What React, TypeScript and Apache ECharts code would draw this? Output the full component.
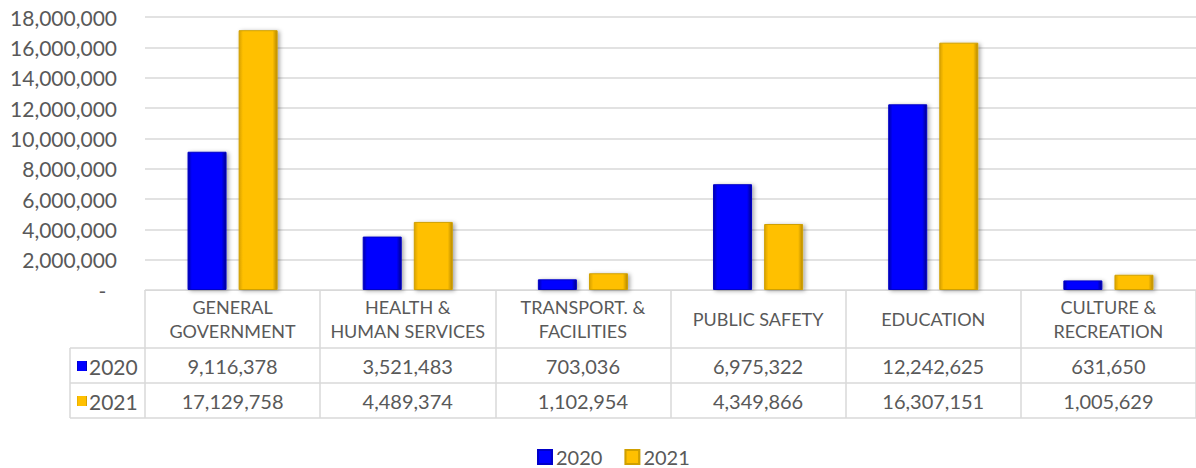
import React, { useEffect, useRef } from "react";
import * as echarts from "echarts";

const categories = [
  "GENERAL\nGOVERNMENT",
  "HEALTH &\nHUMAN SERVICES",
  "TRANSPORT. &\nFACILITIES",
  "PUBLIC SAFETY",
  "EDUCATION",
  "CULTURE &\nRECREATION",
];
const seriesNames = ["2020", "2021"];
const values2020 = [9116378, 3521483, 703036, 6975322, 12242625, 631650];
const values2021 = [17129758, 4489374, 1102954, 4349866, 16307151, 1005629];
const yMin = 0;
const yMax = 18000000;
const yInterval = 2000000;

const fmt = (n: number) => n.toLocaleString("en-US");
const FONT = "Lato";
const TXT = "#595959";
const LINE = "#d9d9d9";

const blueGrad = new echarts.graphic.LinearGradient(0, 0, 1, 0, [
  { offset: 0, color: "#0000a8" },
  { offset: 0.1, color: "#0000ff" },
  { offset: 0.88, color: "#0000ff" },
  { offset: 1, color: "#00008c" },
]);
const yellowGrad = new echarts.graphic.LinearGradient(0, 0, 1, 0, [
  { offset: 0, color: "#d9a200" },
  { offset: 0.1, color: "#ffc000" },
  { offset: 0.88, color: "#ffc000" },
  { offset: 1, color: "#b88a00" },
]);

export default function App() {
  const ref = useRef<HTMLDivElement>(null);
  useEffect(() => {
    document.body.style.margin = "0";
    const chart = echarts.init(ref.current!, null, { renderer: "svg" });
    const valueAxis = (data: number[], margin: number) => ({
      type: "category",
      data: data.map(fmt),
      position: "bottom",
      gridIndex: 0,
      axisLine: { show: false },
      axisTick: { show: false },
      axisLabel: {
        interval: 0,
        margin,
        verticalAlign: "middle",
        color: TXT,
        fontFamily: FONT,
        fontSize: 20,
      },
    });
    chart.setOption({
      animation: false,
      textStyle: { fontFamily: FONT },
      grid: { left: 145, right: 0, top: 17, bottom: 178, containLabel: false },
      legend: {
        data: seriesNames,
        left: 532,
        top: 442,
        itemWidth: 14,
        itemHeight: 14,
        itemGap: 22,
        icon: "rect",
        textStyle: { color: TXT, fontFamily: FONT, fontSize: 20, lineHeight: 20, padding: [0, 0, 0, -1] },
      },
      xAxis: [
        {
          type: "category",
          data: categories,
          position: "bottom",
          axisLine: { show: true, lineStyle: { color: LINE, width: 1 } },
          axisTick: { show: true, length: 128, interval: 0, lineStyle: { color: LINE, width: 1.5 } },
          axisLabel: {
            interval: 0,
            margin: 29,
            verticalAlign: "middle",
            color: TXT,
            fontFamily: FONT,
            fontSize: 18,
            lineHeight: 24,
          },
        },
        valueAxis(values2020, 76),
        valueAxis(values2021, 111),
      ],
      yAxis: {
        type: "value",
        min: yMin,
        max: yMax,
        interval: yInterval,
        axisLine: { show: false },
        axisTick: { show: false },
        splitLine: { lineStyle: { color: LINE, width: 1.5 } },
        axisLabel: {
          margin: 28,
          color: TXT,
          fontFamily: FONT,
          fontSize: 21,
          formatter: (v: number) => (v === 0 ? "-  " : fmt(v)),
        },
      },
      series: [
        {
          name: seriesNames[0],
          type: "bar",
          data: values2020,
          barWidth: 39,
          barGap: "31%",
          itemStyle: {
            color: blueGrad,
            borderColor: "#0000c8",
            borderWidth: 1,
            shadowColor: "rgba(0,0,0,0.35)",
            shadowBlur: 4,
            shadowOffsetX: 2,
            shadowOffsetY: 1,
          },
        },
        {
          name: seriesNames[1],
          type: "bar",
          data: values2021,
          barWidth: 39,
          itemStyle: {
            color: yellowGrad,
            borderColor: "#d0a000",
            borderWidth: 1,
            shadowColor: "rgba(0,0,0,0.35)",
            shadowBlur: 4,
            shadowOffsetX: 2,
            shadowOffsetY: 1,
          },
        },
      ],
      graphic: [
        { type: "line", shape: { x1: 70, y1: 348, x2: 1196, y2: 348 }, style: { stroke: LINE, lineWidth: 1.5 } },
        { type: "line", shape: { x1: 70, y1: 383, x2: 1196, y2: 383 }, style: { stroke: LINE, lineWidth: 1.5 } },
        { type: "line", shape: { x1: 70, y1: 418, x2: 1196, y2: 418 }, style: { stroke: LINE, lineWidth: 1.5 } },
        { type: "line", shape: { x1: 70, y1: 348, x2: 70, y2: 418 }, style: { stroke: LINE, lineWidth: 1.5 } },
        { type: "rect", shape: { x: 77, y: 361, width: 10, height: 10 }, style: { fill: blueGrad } },
        { type: "text", x: 89, y: 366, style: { text: seriesNames[0], fill: TXT, font: `21px ${FONT}`, verticalAlign: "middle" } },
        { type: "rect", shape: { x: 77, y: 396, width: 10, height: 10 }, style: { fill: yellowGrad } },
        { type: "text", x: 89, y: 401, style: { text: seriesNames[1], fill: TXT, font: `21px ${FONT}`, verticalAlign: "middle" } },
      ],
    });
    return () => chart.dispose();
  }, []);
  return <div ref={ref} style={{ width: 1196, height: 468 }} />;
}
